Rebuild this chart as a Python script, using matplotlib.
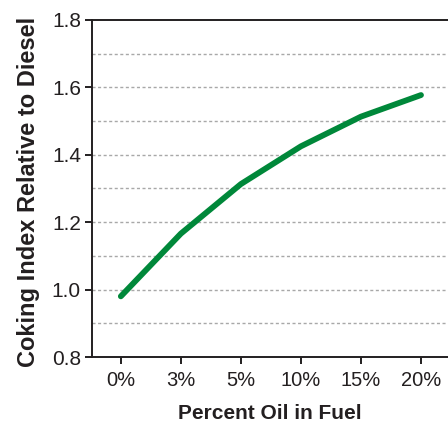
import matplotlib.pyplot as plt
import numpy as np

oil_labels = ["0%", "3%", "5%", "10%", "15%", "20%"]
coking_index = [0.98, 1.166, 1.313, 1.425, 1.513, 1.577]

plt.rcParams["font.family"] = ["Liberation Sans", "DejaVu Sans"]

fig = plt.figure(figsize=(4.48, 4.23), dpi=100)
ax = fig.add_axes([0.2054, 0.156, 0.7946, 0.797])

x = np.arange(len(oil_labels))
ax.plot(x, coking_index, color="#00883a", linewidth=4.2, solid_capstyle="round",
        solid_joinstyle="round")

ax.set_xlim(-0.48, 5.45)
ax.set_ylim(0.8, 1.8)
ax.set_xticks(x)
ax.set_xticklabels(oil_labels)
ax.set_yticks(np.arange(0.8, 1.81, 0.2))
ax.set_yticklabels(["0.8", "1.0", "1.2", "1.4", "1.6", "1.8"])
for yv in np.arange(0.9, 1.75, 0.1):
    ax.axhline(yv, color="#a8a8a8", linewidth=1.0, linestyle=(0, (2.2, 1.8)), zorder=0)

ax.spines["right"].set_visible(False)
for s in ["left", "bottom", "top"]:
    ax.spines[s].set_linewidth(1.4)
    ax.spines[s].set_color("#231f20")
ax.tick_params(axis="y", direction="out", length=5, width=1.4, color="#231f20",
               labelsize=15, labelcolor="#231f20", pad=3)
ax.tick_params(axis="x", direction="out", length=5, width=1.4, color="#231f20",
               labelsize=14.5, labelcolor="#231f20", pad=5)

ax.set_xlabel("Percent Oil in Fuel", fontsize=15, fontweight="bold", color="#231f20", labelpad=10)
ax.set_ylabel("Coking Index Relative to Diesel", fontsize=17, fontweight="bold", color="#231f20")
ax.yaxis.set_label_coords(-0.146, 0.49)

fig.savefig("out.png", dpi=100)
